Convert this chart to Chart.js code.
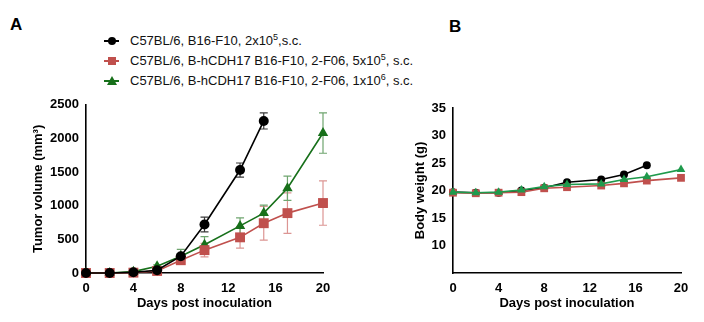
<!DOCTYPE html>
<html>
<head>
<meta charset="utf-8">
<script src="https://cdn.jsdelivr.net/npm/chart.js@4.4.1/dist/chart.umd.min.js"></script>
<style>
  body { margin: 0; background: #fff; width: 704px; height: 322px; position: relative; overflow: hidden; font-family: "Liberation Sans", Arial, sans-serif; }
  #wrapA { position: absolute; left: 0; top: 95px; width: 345px; height: 227px; }
  #wrapB { position: absolute; left: 380px; top: 95px; width: 324px; height: 227px; }
  .panel { position: absolute; font-weight: bold; font-size: 17px; color: #000; }
  #legend { position: absolute; left: 104px; top: 31px; font-size: 13px; color: #111; }
  .row { height: 20px; line-height: 20px; position: relative; padding-left: 26px; white-space: nowrap; }
  .row sup { font-size: 9px; line-height: 0; }
  .ln { position: absolute; left: 0; top: 9px; width: 15px; height: 2px; }
  .mk { position: absolute; }
</style>
</head>
<body>
<div class="panel" style="left:10px;top:15px;">A</div>
<div class="panel" style="left:449px;top:17px;">B</div>
<div id="legend">
  <div class="row"><span class="ln" style="background:#000"></span><span class="mk" style="left:4px;top:6px;width:8px;height:8px;border-radius:50%;background:#000"></span>C57BL/6, B16-F10, 2x10<sup>5</sup>,s.c.</div>
  <div class="row"><span class="ln" style="background:#c0504d"></span><span class="mk" style="left:4px;top:6px;width:8px;height:8px;background:#c0504d"></span>C57BL/6, B-hCDH17 B16-F10, 2-F06, 5x10<sup>5</sup>, s.c.</div>
  <div class="row"><span class="ln" style="background:#17701a"></span><span class="mk" style="left:3px;top:5px;width:0;height:0;border-left:5px solid transparent;border-right:5px solid transparent;border-bottom:9px solid #17701a"></span>C57BL/6, B-hCDH17 B16-F10, 2-F06, 1x10<sup>6</sup>, s.c.</div>
</div>
<div id="wrapA"><canvas id="chartA"></canvas></div>
<div id="wrapB"><canvas id="chartB"></canvas></div>
<script>
// days post inoculation
const days = [0, 2, 4, 6, 8, 10, 13, 15, 17, 20];
const daysB16 = [0, 2, 4, 6, 8, 10, 13, 15];
const daysB16w = [0, 2, 4, 6, 8, 10, 13, 15, 17];

// tumor volume (mm3), mean and error
const volB16 = [0, 0, 10, 40, 250, 720, 1530, 2260];
const volB16Err = [0, 0, 10, 15, 40, 110, 105, 120];
const vol5e5 = [0, 0, 5, 30, 190, 340, 530, 740, 890, 1040];
const vol5e5Err = [0, 0, 5, 15, 50, 100, 160, 250, 300, 330];
const vol1e6 = [0, 0, 20, 100, 250, 420, 700, 890, 1260, 2080];
const vol1e6Err = [0, 0, 10, 20, 100, 120, 120, 120, 180, 300];

// body weight (g)
const wB16 = [19.7, 19.6, 19.6, 20.0, 20.5, 21.5, 22.0, 22.9, 24.6];
const w5e5 = [19.6, 19.5, 19.6, 19.7, 20.4, 20.6, 20.9, 21.3, 21.8, 22.3];
const w1e6 = [19.7, 19.6, 19.7, 20.1, 20.7, 21.1, 21.2, 22.0, 22.5, 23.8];

const xTicks = [0, 4, 8, 12, 16, 20];
const volTicks = [0, 500, 1000, 1500, 2000, 2500];
const wTicks = [10, 15, 20, 25, 30, 35];

const BLACK = "#000000";
const RED = "#c0504d";
const GREEN_A = "#17701a";
const GREEN_B = "#1f9a4c";

// marker radius per point style (Chart.js "rect" draws smaller than its radius)
const sizeA = { circle: 5, rect: 7, triangle: 6 };
const sizeB = { circle: 4, rect: 5.5, triangle: 5 };

function pts(xs, ys) {
  return xs.map((x, i) => ({ x: x, y: ys[i] }));
}

const errorBars = {
  id: "errorBars",
  beforeDatasetsDraw(chart) {
    const ctx = chart.ctx;
    const yScale = chart.scales.y;
    chart.data.datasets.forEach((ds, i) => {
      if (!ds.err) return;
      const meta = chart.getDatasetMeta(i);
      ctx.save();
      ctx.strokeStyle = ds.errColor;
      ctx.lineWidth = 1.2;
      meta.data.forEach((pt, j) => {
        const e = ds.err[j];
        if (!e) return;
        const v = ds.data[j].y;
        const yTop = yScale.getPixelForValue(v + e);
        const yBot = yScale.getPixelForValue(v - e);
        ctx.beginPath();
        ctx.moveTo(pt.x, yTop); ctx.lineTo(pt.x, yBot);
        ctx.moveTo(pt.x - 4, yTop); ctx.lineTo(pt.x + 4, yTop);
        ctx.moveTo(pt.x - 4, yBot); ctx.lineTo(pt.x + 4, yBot);
        ctx.stroke();
      });
      ctx.restore();
    });
  }
};

const tickFont = { family: "'Liberation Sans', Arial, sans-serif", size: 13, weight: "bold" };
const titleFont = { family: "'Liberation Sans', Arial, sans-serif", size: 13, weight: "bold" };

function series(label, xs, ys, color, style, sizes, err, errColor) {
  return {
    label: label,
    data: pts(xs, ys),
    borderColor: color,
    backgroundColor: color,
    borderWidth: 1.6,
    pointStyle: style,
    pointRadius: sizes[style],
    pointBorderWidth: 0,
    tension: 0,
    err: err,
    errColor: errColor,
    clip: false
  };
}

function axes(yMin, yMax, yTicks, yTitle, yWidth, yTitlePad) {
  return {
    x: {
      type: "linear", min: 0, max: 20,
      afterBuildTicks: (s) => { s.ticks = xTicks.map(v => ({ value: v })); },
      afterFit: (s) => { s.height = 49; },
      grid: { display: false, drawTicks: true, tickLength: 5, tickColor: "#000", tickWidth: 1.5 },
      border: { color: "#000", width: 1.6 },
      ticks: { color: "#000", font: tickFont, padding: 3, maxRotation: 0, callback: (v) => String(v) },
      title: { display: true, text: "Days post inoculation", color: "#000", font: titleFont, padding: { top: 0, bottom: 11 } }
    },
    y: {
      min: yMin, max: yMax,
      afterBuildTicks: (s) => { s.ticks = yTicks.map(v => ({ value: v })); },
      afterFit: (s) => { s.width = yWidth; },
      grid: { display: false, drawTicks: true, tickLength: 5, tickColor: "#000", tickWidth: 1.5 },
      border: { color: "#000", width: 1.6 },
      ticks: { color: "#000", font: tickFont, padding: 2, callback: (v) => String(v) },
      title: { display: true, text: yTitle, color: "#000", font: titleFont, padding: { top: yTitlePad, bottom: 0 } }
    }
  };
}

new Chart(document.getElementById("chartA"), {
  type: "line",
  data: {
    datasets: [
      series("B16", daysB16, volB16, BLACK, "circle", sizeA, volB16Err, "#3a3a3a"),
      series("5e5", days, vol5e5, RED, "rect", sizeA, vol5e5Err, "#dc9593"),
      series("1e6", days, vol1e6, GREEN_A, "triangle", sizeA, vol1e6Err, "#6fa56f")
    ]
  },
  options: {
    responsive: true, maintainAspectRatio: false, animation: false,
    layout: { padding: { top: 6, right: 22, left: 0, bottom: 0 } },
    plugins: { legend: { display: false }, tooltip: { enabled: false } },
    scales: axes(0, 2500, volTicks, "Tumor volume (mm\u00B3)", 86, 31)
  },
  plugins: [errorBars]
});

new Chart(document.getElementById("chartB"), {
  type: "line",
  data: {
    datasets: [
      series("1e6", days, w1e6, GREEN_B, "triangle", sizeB),
      series("5e5", days, w5e5, RED, "rect", sizeB),
      series("B16", daysB16w, wB16, BLACK, "circle", sizeB)
    ]
  },
  options: {
    responsive: true, maintainAspectRatio: false, animation: false,
    layout: { padding: { top: 13, right: 23, left: 0, bottom: 0 } },
    plugins: { legend: { display: false }, tooltip: { enabled: false } },
    scales: axes(5, 35, wTicks, "Body weight (g)", 73, 33)
  }
});
</script>
</body>
</html>
